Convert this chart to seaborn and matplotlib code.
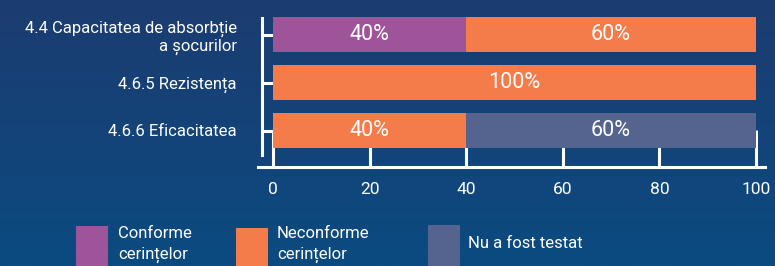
import numpy as np
import matplotlib
matplotlib.use("Agg")
import matplotlib.pyplot as plt
import seaborn as sns
from matplotlib.colors import LinearSegmentedColormap
from matplotlib.patches import Rectangle

categories = ["4.4 Capacitatea de absorbție\na șocurilor", "4.6.5 Rezistența", "4.6.6 Eficacitatea"]
series_names = ["Conforme\ncerințelor", "Neconforme\ncerințelor", "Nu a fost testat"]
conforme = [40, 0, 0]
neconforme = [60, 100, 40]
netestat = [0, 0, 60]
xticks = [0, 20, 40, 60, 80, 100]

colors = ["#9e5499", "#f47b4a", "#55648f"]

sns.set_style("white")
plt.rcParams['font.family'] = ['Roboto', 'DejaVu Sans']

fig = plt.figure(figsize=(7.75, 2.66), dpi=100)

# gradient background
bg = fig.add_axes([0, 0, 1, 1], zorder=-10)
cmap = LinearSegmentedColormap.from_list("bg", ["#1c3c71", "#0b4b80"])
bg.imshow(np.linspace(0, 1, 256).reshape(-1, 1), aspect="auto", cmap=cmap, extent=(0, 1, 0, 1))
bg.axis("off")

ax = fig.add_axes([273/775, 1-154.5/266, (756-273)/775, 144/266])
ax.set_facecolor("none")

series = [conforme, neconforme, netestat]
lefts = np.zeros(len(categories))
for name, vals, col in zip(series_names, series, colors):
    vals = np.array(vals, dtype=float)
    sns.barplot(x=vals, y=categories, left=lefts, color=col, width=0.73,
                errorbar=None, ax=ax, saturation=1, orient="h",
                edgecolor="none", linewidth=0)
    cont = ax.containers[-1]
    labels = [f"{int(v)}%" if v > 0 else "" for v in vals]
    ax.bar_label(cont, labels=labels, label_type="center", color="white",
                 fontsize=15.5)
    lefts = lefts + vals

ax.set_xlim(0, 100)
ax.set_ylim(2.5, -0.5)
ax.set_xticks(xticks)
ax.set_xticklabels([str(t) for t in xticks])
ax.set_xlabel("")
ax.set_ylabel("")
ax.set_axisbelow(True)

for s in ["top", "right"]:
    ax.spines[s].set_visible(False)
for s in ["left", "bottom"]:
    ax.spines[s].set_color("white")
    ax.spines[s].set_linewidth(2.2)
ax.spines["left"].set_position(("outward", 8))
ax.spines["bottom"].set_position(("outward", 9))
ax.spines["left"].set_bounds(2.5, -0.34)
ax.spines["bottom"].set_bounds(-3.1, 101.9)

ax.tick_params(axis="x", bottom=True, direction="in", length=27, width=2.2, color="white",
               labelcolor="white", labelsize=12.5, pad=11)
ax.tick_params(axis="y", left=True, direction="in", length=8, width=2.2, color="white",
               labelcolor="white", labelsize=12, pad=18)

# legend
leg_items = [(76, 226, series_names[0], 118), (236, 228, series_names[1], 277), (428, 225, series_names[2], 468)]
for (x0, y0, name, tx), col in zip(leg_items, colors):
    fig.add_artist(Rectangle((x0/775, 0), 32/775, (266-y0)/266, transform=fig.transFigure,
                             facecolor=col, edgecolor="none"))
    if "\n" in name:
        fig.text(tx/775, 1-226/266, name, color="white", fontsize=12, va="top", ha="left",
                 linespacing=1.45)
    else:
        fig.text(tx/775, 1-243/266, name, color="white", fontsize=12, va="center", ha="left")

fig.savefig("out.png", dpi=100)
